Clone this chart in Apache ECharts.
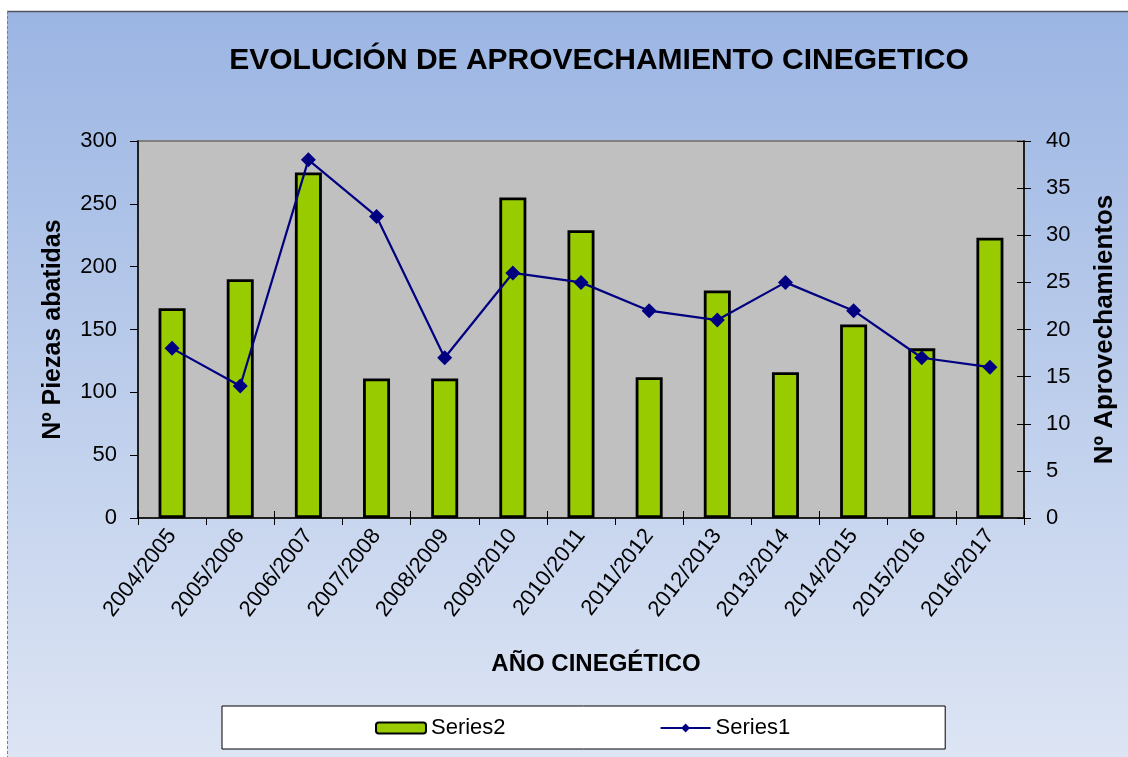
<!DOCTYPE html>
<html>
<head>
<meta charset="utf-8">
<script src="https://cdn.jsdelivr.net/npm/echarts@6/dist/echarts.min.js"></script>
<style>
  html, body { margin: 0; padding: 0; background: #fff; }
  #chart { width: 1128px; height: 757px; }
</style>
</head>
<body>
<div id="chart"></div>
<script>
const seasons = ["2004/2005", "2005/2006", "2006/2007", "2007/2008", "2008/2009", "2009/2010", "2010/2011",
  "2011/2012", "2012/2013", "2013/2014", "2014/2015", "2015/2016", "2016/2017"];
const series2 = [167, 190, 275, 111, 111, 255, 229, 112, 181, 116, 154, 135, 223];
const series1 = [18, 14, 38, 32, 17, 26, 25, 22, 21, 25, 22, 17, 16];
const leftTicks = { min: 0, max: 300, interval: 50 };
const rightTicks = { min: 0, max: 40, interval: 5 };

const FONT = "Liberation Sans, Arial, sans-serif";
const GREEN = "#99cc00";
const NAVY = "#000080";

const chart = echarts.init(document.getElementById("chart"), null, { renderer: "canvas" });

chart.setOption({
  animation: false,
  backgroundColor: "#ffffff",
  graphic: [
    {
      type: "rect",
      shape: { x: 7, y: 11, width: 1121, height: 746 },
      style: {
        fill: new echarts.graphic.LinearGradient(0, 0, 0, 1, [
          { offset: 0, color: "#9bb5e3" },
          { offset: 1, color: "#dde5f4" },
        ]),
      },
      z: -10,
    },
    { type: "line", shape: { x1: 7, y1: 11.5, x2: 1128, y2: 11.5 }, style: { stroke: "#505560", lineWidth: 1.5 }, z: -9 },
    { type: "line", shape: { x1: 7.5, y1: 11, x2: 7.5, y2: 757 }, style: { stroke: "#808080", lineWidth: 1, lineDash: [3, 2] }, z: -9 },
  ],
  title: {
    text: "EVOLUCIÓN DE APROVECHAMIENTO CINEGETICO",
    left: 594,
    textAlign: "center",
    top: 41,
    textStyle: { fontFamily: FONT, fontSize: 30, fontWeight: "bold", color: "#000" },
  },
  grid: {
    left: 138, right: 104, top: 141, bottom: 239,
    show: true,
    backgroundColor: "#c0c0c0",
    borderColor: "#808080",
    borderWidth: 2,
  },
  legend: {
    left: 222,
    top: 706,
    backgroundColor: "#ffffff",
    borderColor: "#000000",
    borderWidth: 1,
    borderRadius: 0,
    padding: [11, 155, 10, 153],
    itemGap: 154,
    itemWidth: 50,
    itemHeight: 11,
    textStyle: { fontFamily: FONT, fontSize: 22, color: "#000" },
    data: ["Series2", "Series1"],
  },
  xAxis: [
    {
      type: "category",
      data: seasons,
      name: "AÑO CINEGÉTICO",
      nameLocation: "middle",
      nameGap: 134,
      nameTextStyle: { fontFamily: FONT, fontSize: 24, fontWeight: "bold", color: "#000", padding: [0, 0, 0, 30] },
      axisLine: { lineStyle: { color: "#000", width: 1.5 } },
      axisTick: { show: true, length: 7, lineStyle: { color: "#000" } },
      axisLabel: { rotate: 52, fontFamily: FONT, fontSize: 22, color: "#000", margin: 14, interval: 0 },
    },
    {
      type: "category",
      data: seasons,
      position: "bottom",
      axisLine: { show: false },
      axisTick: { show: true, inside: true, length: 7, lineStyle: { color: "#000" } },
      axisLabel: { show: false },
    },
  ],
  yAxis: [
    {
      type: "value",
      ...leftTicks,
      name: "Nº Piezas abatidas",
      nameLocation: "middle",
      nameGap: 72,
      nameTextStyle: { fontFamily: FONT, fontSize: 25, fontWeight: "bold", color: "#000" },
      axisLine: { show: true, lineStyle: { color: "#000", width: 1.5 } },
      axisTick: { show: true, length: 8, lineStyle: { color: "#000" } },
      axisLabel: { fontFamily: FONT, fontSize: 22, color: "#000", margin: 21 },
      splitLine: { show: false },
    },
    {
      type: "value",
      ...rightTicks,
      position: "right",
      name: "Nº Aprovechamientos",
      nameLocation: "middle",
      nameGap: 68,
      nameTextStyle: { fontFamily: FONT, fontSize: 26, fontWeight: "bold", color: "#000" },
      axisLine: { show: true, lineStyle: { color: "#000", width: 1.5 } },
      axisTick: { show: true, length: 7, lineStyle: { color: "#000" } },
      axisLabel: { fontFamily: FONT, fontSize: 22, color: "#000", margin: 22 },
      splitLine: { show: false },
    },
    {
      type: "value",
      ...rightTicks,
      position: "right",
      axisLine: { show: false },
      axisTick: { show: true, inside: true, length: 7, lineStyle: { color: "#000" } },
      axisLabel: { show: false },
      splitLine: { show: false },
    },
  ],
  series: [
    {
      name: "Series2",
      type: "bar",
      yAxisIndex: 0,
      data: series2,
      barWidth: 27,
      itemStyle: { color: GREEN, borderColor: "#000", borderWidth: 2.8 },
      z: 2,
    },
    {
      name: "Series1",
      type: "line",
      yAxisIndex: 1,
      data: series1,
      symbol: "diamond",
      symbolSize: 15,
      lineStyle: { color: NAVY, width: 2.2 },
      itemStyle: { color: NAVY },
      z: 3,
    },
  ],
});
</script>
</body>
</html>
